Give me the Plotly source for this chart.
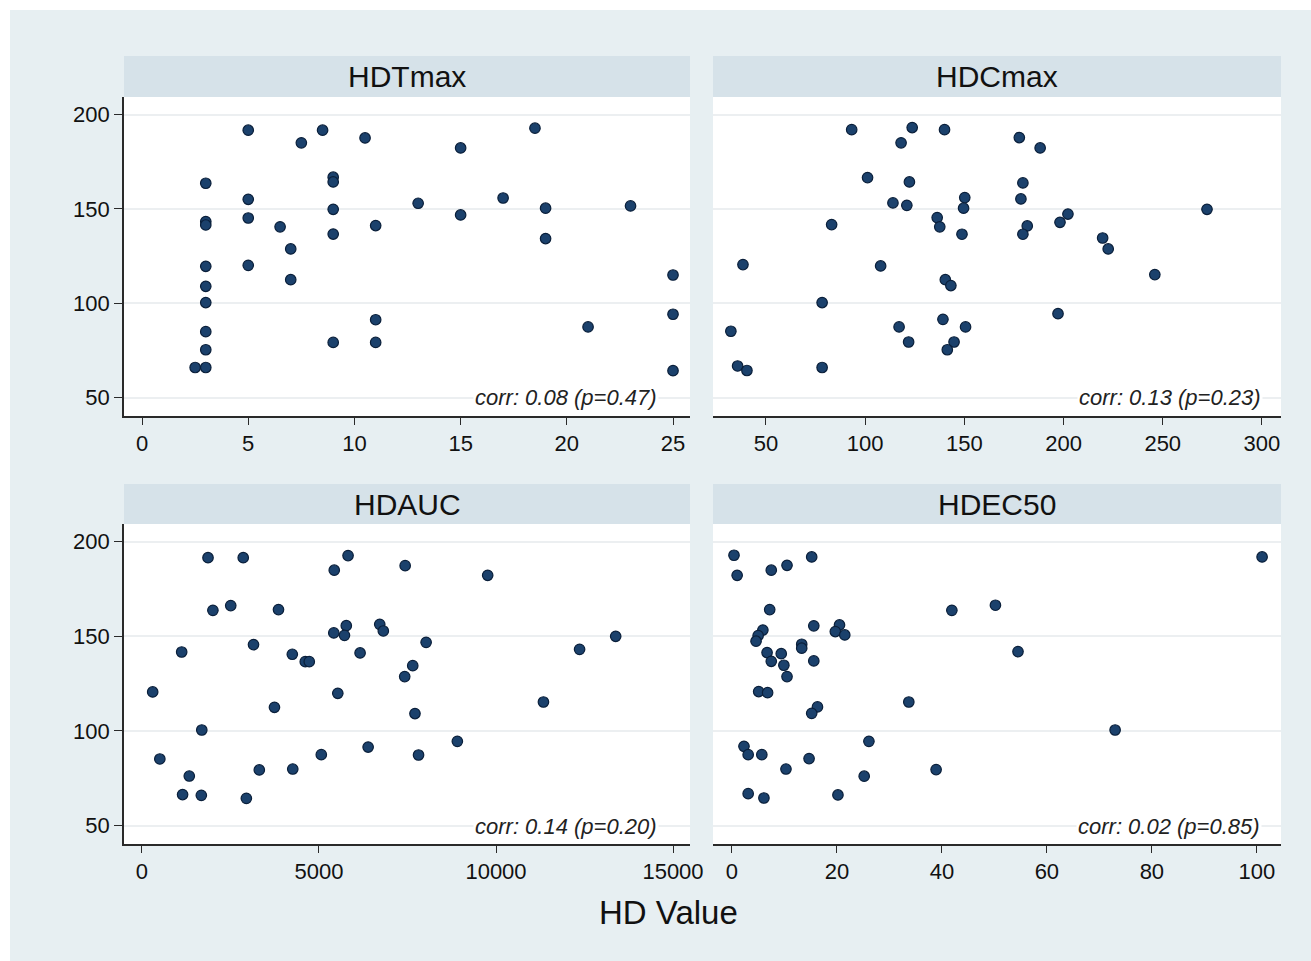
import plotly.graph_objects as go

# ---------------- data ----------------
panel_titles = ["HDTmax", "HDCmax", "HDAUC", "HDEC50"]
corr_labels = ["corr: 0.08 (p=0.47)", "corr: 0.13 (p=0.23)",
               "corr: 0.14 (p=0.20)", "corr: 0.02 (p=0.85)"]
x_title = "HD Value"

tmax_x = [5, 7.5, 8.5, 10.5, 15, 18.5, 3, 9, 9, 5, 5, 6.5, 3, 3, 9, 13, 15, 17, 19, 23,
          9, 11, 7, 19, 3, 5, 7, 3, 3, 25, 11, 3, 9, 11, 3, 21, 25, 2.5, 3, 25]
tmax_y = [191.7, 185, 191.7, 187.6, 182.3, 192.8, 163.6, 166.8, 164.3, 155.1, 145.2, 140.5,
          143.3, 141.5, 149.8, 153, 146.8, 155.8, 150.4, 151.6, 136.7, 141.2, 128.8, 134.3,
          119.6, 120.1, 112.5, 109, 100.4, 115, 91.3, 85, 79.3, 79.3, 75.4, 87.5, 94.2,
          66, 66, 64.3]

cmax_x = [93.2, 123.7, 140, 118.1, 177.7, 188.2, 101.2, 122.3, 179.5, 178.5, 150.2, 149.6,
          114, 121, 272.3, 202.2, 198.2, 136.3, 137.6, 181.7, 179.5, 148.8, 83.1, 219.7,
          222.5, 38.4, 107.8, 246, 140.4, 143.2, 78.3, 197.2, 139.2, 32.3, 117.1, 150.6,
          121.9, 144.8, 141.4, 35.7, 40.4, 78.3]
cmax_y = [192, 193.1, 192, 185, 187.8, 182.3, 166.6, 164.3, 163.8, 155.3, 156, 150.4,
          153.2, 151.9, 149.8, 147.3, 142.9, 145.4, 140.5, 141, 136.6, 136.6, 141.7, 134.6,
          128.8, 120.5, 119.8, 115.2, 112.5, 109.4, 100.4, 94.5, 91.5, 85.2, 87.5, 87.5,
          79.5, 79.5, 75.4, 66.8, 64.4, 66]

auc_x = [1865, 2860, 5821, 5431, 7434, 9765, 2507, 2003, 3856, 5771, 6716, 6817, 5418,
         5720, 13381, 8026, 3150, 12361, 1121, 4246, 6161, 4612, 4725, 7648, 7421, 302,
         5531, 3742, 11340, 7711, 1689, 8908, 6388, 504, 5065, 7812, 3314, 4259, 1336,
         1147, 1676, 2948]
auc_y = [191.5, 191.5, 192.6, 184.9, 187.3, 182.2, 166.2, 163.7, 164.1, 155.6, 156.3,
         152.8, 151.8, 150.5, 150, 146.8, 145.6, 143.1, 141.7, 140.5, 141.2, 136.6, 136.6,
         134.5, 128.7, 120.6, 119.9, 112.5, 115.3, 109.2, 100.5, 94.5, 91.5, 85.2, 87.5,
         87.3, 79.4, 79.9, 76.2, 66.4, 66, 64.4]

ec50_x = [0.4, 1.0, 15.2, 7.5, 10.5, 101, 7.2, 41.9, 50.2, 15.6, 20.5, 19.7, 21.5, 5.9,
          5.0, 4.6, 13.3, 13.3, 54.5, 6.7, 9.4, 7.5, 15.6, 9.9, 10.5, 5.1, 6.8, 33.7, 16.3,
          15.2, 73, 26.1, 2.3, 3.1, 5.7, 14.7, 10.3, 38.9, 25.2, 3.1, 6.1, 20.2]
ec50_y = [192.8, 182.2, 191.9, 184.9, 187.5, 191.9, 164.1, 163.7, 166.4, 155.5, 156,
          152.5, 150.7, 153.3, 150.4, 147.4, 145.8, 143.7, 141.9, 141.4, 140.8, 136.8, 137,
          134.7, 128.7, 120.8, 120.2, 115.3, 112.7, 109.3, 100.5, 94.5, 91.9, 87.5, 87.5,
          85.4, 79.9, 79.6, 76.1, 66.9, 64.6, 66.2]

y_ticks = [50, 100, 150, 200]
x_ticks = [[0, 5, 10, 15, 20, 25], [50, 100, 150, 200, 250, 300],
           [0, 5000, 10000, 15000], [0, 20, 40, 60, 80, 100]]

# ---------------- layout helpers ----------------
W, H = 1311, 961


def px(x):
    return x / W


def py(y):
    return 1 - y / H


BG = "#e7eff2"
STRIP = "#d6e2e9"
AXC = "#2a2a2a"
GRID = "#eceff1"
MK = "#1b416c"
FONT = "Liberation Sans, Arial, sans-serif"

xdom = [(124, 690), (713, 1281), (124, 690), (713, 1281)]
ydom = [(97, 416), (97, 416), (524, 844), (524, 844)]
strip_y = [(56, 97), (56, 97), (484, 524), (484, 524)]
corr_pos = [(659, 398), (1263, 398), (659, 826), (1262, 826)]
xr = [[-0.85, 25.8], [23.3, 309.6], [-508, 15480], [-3.6, 104.6]]
yr = [40.3, 209.3]

xs = [tmax_x, cmax_x, auc_x, ec50_x]
ys = [tmax_y, cmax_y, auc_y, ec50_y]

fig = go.Figure()
layout = dict(
    template="none",
    width=W, height=H, autosize=False,
    margin=dict(l=0, r=0, t=0, b=0, pad=0, autoexpand=False),
    paper_bgcolor=BG, plot_bgcolor="white",
    showlegend=False,
    font=dict(family=FONT, color="#111111"),
)
shapes = [
    dict(type="rect", xref="paper", yref="paper", x0=0, x1=1, y0=py(10), y1=1,
         fillcolor="white", line=dict(width=0), layer="below"),
    dict(type="rect", xref="paper", yref="paper", x0=0, x1=px(10), y0=0, y1=1,
         fillcolor="white", line=dict(width=0), layer="below"),
]
annotations = []

for i in range(4):
    n = "" if i == 0 else str(i + 1)
    fig.add_trace(go.Scatter(
        x=xs[i], y=ys[i], mode="markers",
        marker=dict(size=10.5, color=MK, line=dict(color="#0a1f3a", width=1.2)),
        xaxis="x" + n, yaxis="y" + n, hoverinfo="x+y"))
    left = i in (0, 2)
    layout["xaxis" + n] = dict(
        domain=[px(xdom[i][0]), px(xdom[i][1])], anchor="y" + n, automargin=False,
        range=xr[i], tickvals=x_ticks[i], ticktext=[str(v) for v in x_ticks[i]],
        showgrid=False, zeroline=False, showline=True, linecolor=AXC, linewidth=1.6,
        ticks="outside", ticklen=7, tickwidth=1.4, tickcolor=AXC,
        tickfont=dict(size=22, family=FONT, color="#111111"), fixedrange=True)
    layout["yaxis" + n] = dict(
        domain=[py(ydom[i][1]), py(ydom[i][0])], anchor="x" + n, automargin=False,
        range=yr, tickvals=y_ticks, ticktext=[str(v) for v in y_ticks],
        showgrid=True, gridcolor=GRID, gridwidth=1.5, zeroline=False,
        showline=left, linecolor=AXC, linewidth=1.6,
        ticks="outside" if left else "", ticklen=8, tickwidth=1.4, tickcolor=AXC,
        showticklabels=left,
        tickfont=dict(size=22, family=FONT, color="#111111"), fixedrange=True)
    # strip
    shapes.append(dict(type="rect", xref="paper", yref="paper",
                       x0=px(xdom[i][0]), x1=px(xdom[i][1]),
                       y0=py(strip_y[i][1]), y1=py(strip_y[i][0]),
                       fillcolor=STRIP, line=dict(width=0), layer="below"))
    annotations.append(dict(text=panel_titles[i], xref="paper", yref="paper",
                            x=(px(xdom[i][0]) + px(xdom[i][1])) / 2,
                            y=(py(strip_y[i][0]) + py(strip_y[i][1])) / 2,
                            xanchor="center", yanchor="middle", showarrow=False,
                            font=dict(size=30, family=FONT, color="#111111")))
    # correlation label
    annotations.append(dict(text="<i>" + corr_labels[i] + "</i>",
                            xref="paper", yref="paper",
                            x=px(corr_pos[i][0]), y=py(corr_pos[i][1]),
                            xanchor="right", yanchor="middle", showarrow=False,
                            bgcolor="white", borderpad=1,
                            font=dict(size=22, family=FONT, color="#222222")))

annotations.append(dict(text=x_title, xref="paper", yref="paper",
                        x=px(668), y=py(912), xanchor="center", yanchor="middle",
                        showarrow=False, font=dict(size=33, family=FONT, color="#111111")))

layout["shapes"] = shapes
layout["annotations"] = annotations
fig.update_layout(**layout)
fig.write_html(
    "out.html",
    config={"displayModeBar": False, "responsive": False},
    post_script="document.body.style.margin='0';document.body.style.padding='0';"
                "document.body.style.overflow='hidden';"
                "document.documentElement.style.overflow='hidden';",
)
